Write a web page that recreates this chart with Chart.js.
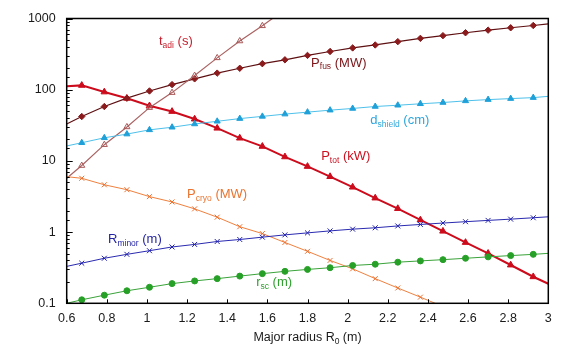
<!DOCTYPE html>
<html>
<head>
<meta charset="utf-8">
<script src="https://cdn.jsdelivr.net/npm/chart.js@4.4.1/dist/chart.umd.min.js"></script>
<style>
  html, body { margin: 0; padding: 0; background: #ffffff; }
  #wrap { width: 566px; height: 357px; position: relative; }
</style>
</head>
<body>
<div id="wrap"><canvas id="c" width="566" height="357"></canvas></div>
<script>
// ---- data ----
const majorRadius = [0.6, 0.675, 0.7875, 0.9, 1.0125, 1.125, 1.2375, 1.35, 1.4625, 1.575, 1.6875, 1.8,
                     1.9125, 2.025, 2.1375, 2.25, 2.3625, 2.475, 2.5875, 2.7, 2.8125, 2.925, 3.0];
const pFus    = [33, 42, 58, 76, 96, 118, 142, 171, 200, 232, 263, 303, 344, 386, 425, 473, 526, 574, 631, 686, 741, 798, 842];
const tAdi    = [5.7, 8.6, 16.9, 30, 56, 91, 158, 280, 483, 789, 1340, null, null, null, null, null, null, null, null, null, null, null, null];
const dShield = [16.2, 18, 21.1, 23.8, 27.3, 29.7, 33, 36, 39.3, 42.2, 45.4, 48.4, 51.6, 54.5, 58.1, 60.5, 63.4, 66.1, 69.7, 72.6, 75, 77.4, 80.7];
const pTot    = [112, 115, 93, 75.7, 59.4, 49.5, 38.7, 28.8, 20.9, 16.0, 11.4, 8.36, 6.02, 4.28, 3.01, 2.14, 1.48, 1.03, 0.715, 0.503, 0.345, 0.236, 0.188];
const pCryo   = [6.0, 5.7, 4.62, 3.94, 3.15, 2.65, 2.12, 1.62, 1.19, 0.953, 0.715, 0.537, 0.40, 0.305, 0.222, 0.164, 0.122, 0.09, null, null, null, null, null];
const rMinor  = [0.33, 0.366, 0.429, 0.487, 0.548, 0.618, 0.671, 0.738, 0.787, 0.849, 0.914, 0.975, 1.04, 1.10, 1.15, 1.22, 1.28, 1.34, 1.40, 1.46, 1.52, 1.59, 1.64];
const rSc     = [0.1, 0.112, 0.130, 0.150, 0.168, 0.189, 0.206, 0.222, 0.241, 0.261, 0.281, 0.299, 0.316, 0.340, 0.354, 0.378, 0.394, 0.410, 0.429, 0.449, 0.468, 0.487, 0.503];

const xTickMin = 0.6, xTickMax = 3.0, xTickStep = 0.2;
const yTickMin = 0.1, yTickMax = 1000;
const xTitle = [['Major radius R', 'm'], ['0', 's'], [' (m)', 'm']];

// series labels: text pieces and anchor in data coordinates
const seriesLabels = [
  { parts: [['t', 'm'], ['adi', 's'], [' (s)', 'm']], at: [1.06, 478], color: '#c9202e' },
  { parts: [['P', 'm'], ['fus', 's'], [' (MW)', 'm']], at: [1.818, 237], color: '#7a1418' },
  { parts: [['d', 'm'], ['shield', 's'], [' (cm)', 'm']], at: [2.113, 37.2], color: '#2ea6dc' },
  { parts: [['P', 'm'], ['tot', 's'], [' (kW)', 'm']], at: [1.868, 11.4], color: '#cc1020' },
  { parts: [['P', 'm'], ['cryo', 's'], [' (MW)', 'm']], at: [1.20, 3.39], color: '#ea7430' },
  { parts: [['R', 'm'], ['minor', 's'], [' (m)', 'm']], at: [0.806, 0.78], color: '#2424a4' },
  { parts: [['r', 'm'], ['sc', 's'], [' (m)', 'm']], at: [1.544, 0.197], color: '#2fa02f' }
];

const FONT = '"Liberation Sans", Arial, Helvetica, sans-serif';

function toPoints(arr) {
  const out = [];
  for (let i = 0; i < majorRadius.length; i++) out.push({ x: majorRadius[i], y: arr[i] });
  return out;
}
function radiusFn(r) {
  return function (ctx) {
    const i = ctx.dataIndex, n = majorRadius.length;
    const v = ctx.raw ? ctx.raw.y : null;
    if (i === 0 || i === n - 1 || v == null || v > yTickMax || v < yTickMin) return 0;
    return r;
  };
}
function ds(label, arr, color, pointColor, style, width, r, fill) {
  return {
    label, data: toPoints(arr), borderColor: color, borderWidth: width,
    pointStyle: style, pointRadius: radiusFn(r), pointHoverRadius: radiusFn(r),
    pointBorderColor: pointColor, pointBackgroundColor: fill === false ? 'rgba(0,0,0,0)' : pointColor,
    pointBorderWidth: 1, tension: 0, spanGaps: false, clip: 0
  };
}

const frameAndTicks = {
  id: 'frameAndTicks',
  afterDatasetsDraw(chart) {
    const { ctx, chartArea: a, scales } = chart;
    ctx.save();
    ctx.strokeStyle = '#000';
    ctx.lineWidth = 1;
    ctx.beginPath();
    scales.y.ticks.forEach(t => {
      const v = t.value;
      const p = scales.y.getPixelForValue(v);
      const lg = Math.log10(v);
      const major = Math.abs(lg - Math.round(lg)) < 1e-6;
      const len = major ? 6 : 3;
      ctx.moveTo(a.left, Math.round(p) + 0.5);
      ctx.lineTo(a.left + len, Math.round(p) + 0.5);
    });
    scales.x.ticks.forEach(t => {
      const p = scales.x.getPixelForValue(t.value);
      ctx.moveTo(Math.round(p) + 0.5, a.bottom);
      ctx.lineTo(Math.round(p) + 0.5, a.bottom - 4);
    });
    ctx.stroke();
    ctx.lineWidth = 1.5;
    ctx.strokeRect(a.left, a.top, a.right - a.left, a.bottom - a.top);
    ctx.restore();
  },
  afterDraw(chart) {
    const { ctx, chartArea: a, scales } = chart;
    function drawParts(parts, x, y, color, mainSize, subSize, align) {
      ctx.fillStyle = color;
      ctx.textBaseline = 'middle';
      ctx.textAlign = 'left';
      let total = 0;
      parts.forEach(p => { ctx.font = (p[1] === 's' ? subSize : mainSize) + 'px ' + FONT; total += ctx.measureText(p[0]).width; });
      let cx = align === 'center' ? x - total / 2 : x;
      parts.forEach(p => {
        const sub = p[1] === 's';
        ctx.font = (sub ? subSize : mainSize) + 'px ' + FONT;
        ctx.fillText(p[0], cx, sub ? y + 4 : y);
        cx += ctx.measureText(p[0]).width;
      });
    }
    ctx.save();
    seriesLabels.forEach(l => {
      const x = scales.x.getPixelForValue(l.at[0]);
      const y = scales.y.getPixelForValue(l.at[1]);
      drawParts(l.parts, x, y, l.color, 13, 8.5, 'left');
    });
    drawParts(xTitle, (a.left + a.right) / 2, 338, '#1a1a1a', 12.5, 8.5, 'center');
    ctx.restore();
  }
};

new Chart(document.getElementById('c'), {
  type: 'line',
  data: {
    datasets: [
      ds('r_sc', rSc, '#3aa33a', '#27a027', 'circle', 1, 3, true),
      ds('R_minor', rMinor, '#2a2ab0', '#2020b0', 'crossRot', 1, 3.5, true),
      ds('P_cryo', pCryo, '#f0803e', '#ea6e2e', 'crossRot', 1, 3.5, true),
      ds('d_shield', dShield, '#4ec0ea', '#1fa0d8', 'triangle', 1, 3.5, true),
      ds('t_adi', tAdi, '#ab6262', '#a85858', 'triangle', 1.2, 3.5, false),
      ds('P_fus', pFus, '#5e1012', '#8a1a1c', 'rectRot', 1.2, 3.2, true),
      ds('P_tot', pTot, '#cc0c1c', '#cc0c1c', 'triangle', 2, 3.8, true)
    ]
  },
  options: {
    responsive: false,
    animation: false,
    events: [],
    layout: { padding: { left: 0, right: 17.7, top: 15, bottom: 0 } },
    plugins: { legend: { display: false }, tooltip: { enabled: false } },
    scales: {
      x: {
        type: 'linear', min: xTickMin, max: xTickMax,
        grid: { display: false, drawTicks: false }, border: { display: false },
        ticks: {
          stepSize: xTickStep, autoSkip: false, maxRotation: 0, padding: 8,
          color: '#1a1a1a', font: { family: FONT, size: 12.5 },
          callback: v => String(+v.toFixed(1))
        },
        afterFit: s => { s.height = 357 - 303.3; }
      },
      y: {
        type: 'logarithmic', min: yTickMin, max: yTickMax,
        grid: { display: false, drawTicks: false }, border: { display: false },
        ticks: {
          autoSkip: false, padding: 11,
          color: '#1a1a1a', font: { family: FONT, size: 12.5 },
          callback: v => {
            const lg = Math.log10(v);
            return Math.abs(lg - Math.round(lg)) < 1e-6 ? String(+v.toPrecision(3)) : '';
          }
        },
        afterFit: s => { s.width = 66.7; }
      }
    }
  },
  plugins: [frameAndTicks]
});
</script>
</body>
</html>
